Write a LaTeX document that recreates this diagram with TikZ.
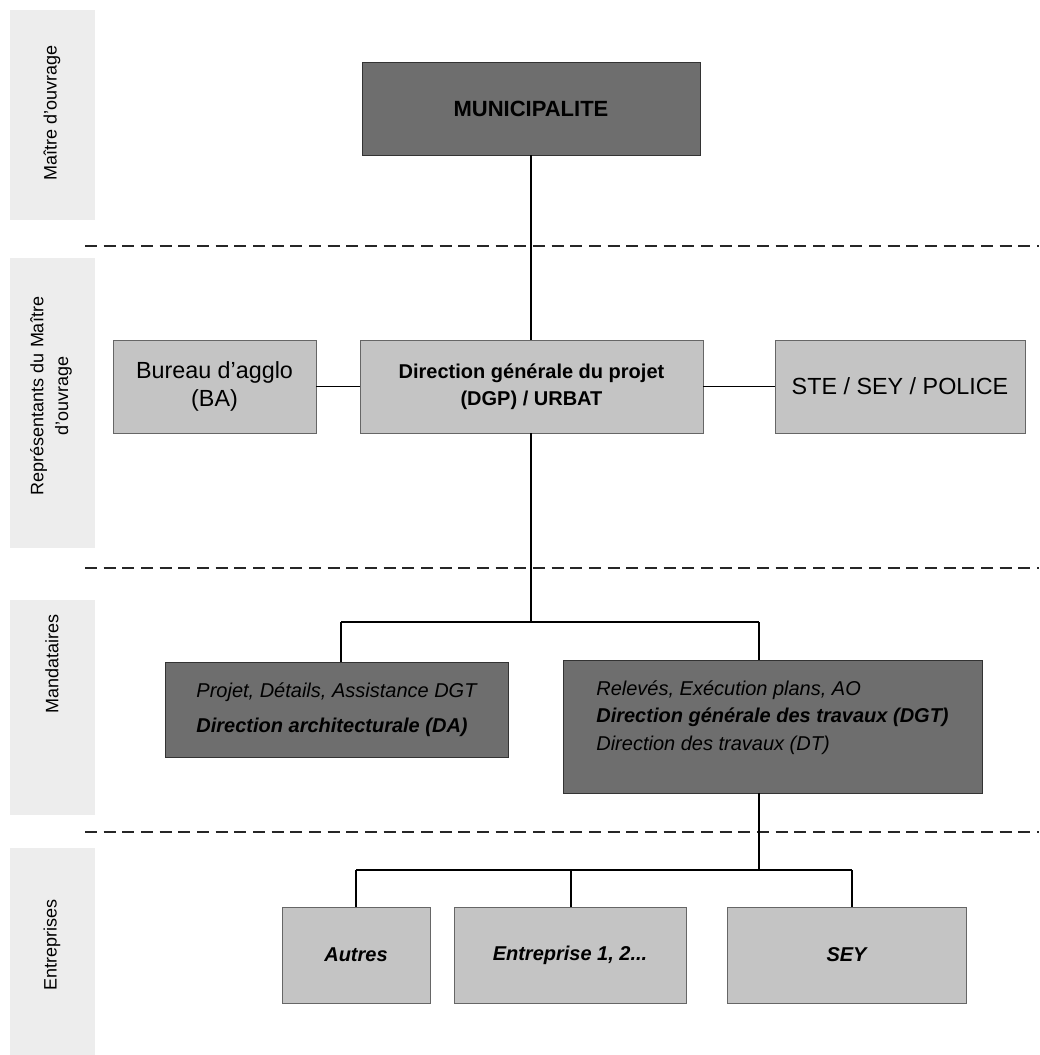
\documentclass[tikz,border=0pt]{standalone}
\usepackage{fontspec}
\setmainfont{Liberation Sans}
\begin{document}
\begin{tikzpicture}[x=0.75pt,y=-0.75pt,
  strip/.style={fill=black!7,draw=none},
  sidelabel/.style={rotate=90,align=center,font=\fontsize{13.5}{18.5}\selectfont},
  lightbox/.style={draw=black!60,line width=0.6pt,fill=black!23,align=center,inner sep=0pt},
  darkbox/.style={draw=black!80,line width=0.7pt,fill=black!57,align=center,inner sep=0pt},
  conn/.style={line width=0.9pt,black},
  sep/.style={line width=1pt,dash pattern=on 9pt off 5pt,black!85}]
\useasboundingbox (0,0) rectangle (1039,1055);
\fill[white] (0,0) rectangle (1039,1055);
% side strips
\fill[strip] (10,10) rectangle (95,220);
\fill[strip] (10,258) rectangle (95,548);
\fill[strip] (10,600) rectangle (95,815);
\fill[strip] (10,848) rectangle (95,1055);
\node[sidelabel] (l1) at (52,113) {Maître d'ouvrage};
\node[sidelabel] (l2) at (51,396) {Représentants du Maître\\d'ouvrage};
\node[sidelabel] (l3) at (52,664) {Mandataires};
\node[sidelabel] (l4) at (52,945) {Entreprises};
% separators
\coordinate (s1a) at (85,246); \coordinate (s1b) at (1039,246);
\coordinate (s2a) at (85,568); \coordinate (s2b) at (1039,568);
\coordinate (s3a) at (85,832); \coordinate (s3b) at (1039,832);
\draw[sep] (s1a) -- (s1b);
\draw[sep] (s2a) -- (s2b);
\draw[sep] (s3a) -- (s3b);
% boxes
\node[darkbox,minimum width=253.5pt,minimum height=69.75pt,font=\fontsize{16.5}{19}\selectfont\bfseries] (mun) at (531,108.5) {MUNICIPALITE};
\node[lightbox,minimum width=152.25pt,minimum height=69.75pt,font=\fontsize{17.5}{20.5}\selectfont] (ba) at (214.5,386.5) {Bureau d'agglo\\(BA)};
\node[lightbox,minimum width=257.25pt,minimum height=69.75pt,font=\fontsize{15}{20}\selectfont\bfseries] (dgp) at (531.5,386.5) {Direction générale du projet\\(DGP) / URBAT};
\node[lightbox,minimum width=187.5pt,minimum height=69.75pt,font=\fontsize{17.5}{20}\selectfont] (ste) at (900,386.5) {STE / SEY / POLICE};
\node[darkbox,minimum width=257.25pt,minimum height=71.25pt,align=left,font=\fontsize{15}{26}\selectfont\itshape] (da) at (336.5,709.5) {Projet, Détails, Assistance DGT\\\textbf{Direction architecturale (DA)}};
\node[darkbox,minimum width=314.25pt,minimum height=99.75pt,align=left,font=\fontsize{15}{20.5}\selectfont\itshape] (dgt) at (772.5,726.5) {\raisebox{0pt}[0pt][0pt]{}Relevés, Exécution plans, AO\\\textbf{Direction générale des travaux (DGT)}\\Direction des travaux (DT)\\[-4pt]};
\node[lightbox,minimum width=111pt,minimum height=72pt,font=\fontsize{15}{18}\selectfont\bfseries\itshape] (aut) at (356,955) {Autres};
\node[lightbox,minimum width=174pt,minimum height=72pt,font=\fontsize{15}{18}\selectfont\bfseries\itshape] (ent) at (570,955) {Entreprise 1, 2...};
\node[lightbox,minimum width=179.25pt,minimum height=72pt,font=\fontsize{15}{18}\selectfont\bfseries\itshape] (sey) at (846.5,955) {SEY};
% connectors
\draw[conn] (mun.south) -- (mun.south |- dgp.north);
\draw[conn] (ba.east) -- (dgp.west);
\draw[conn] (dgp.east) -- (ste.west);
\coordinate (j1) at (531,622);
\coordinate (j1l) at (341,622);
\coordinate (j1r) at (759,622);
\draw[conn] (dgp.south -| j1) -- (j1);
\draw[conn] (j1l) -- (j1r);
\draw[conn] (j1l) -- (j1l |- da.north);
\draw[conn] (j1r) -- (j1r |- dgt.north);
\coordinate (j2) at (759,870);
\coordinate (j2l) at (356,870);
\coordinate (j2m) at (571,870);
\coordinate (j2r) at (852,870);
\draw[conn] (j2 |- dgt.south) -- (j2);
\draw[conn] (j2l) -- (j2r);
\draw[conn] (j2l) -- (j2l |- aut.north);
\draw[conn] (j2m) -- (j2m |- ent.north);
\draw[conn] (j2r) -- (j2r |- sey.north);
\end{tikzpicture}
\end{document}
